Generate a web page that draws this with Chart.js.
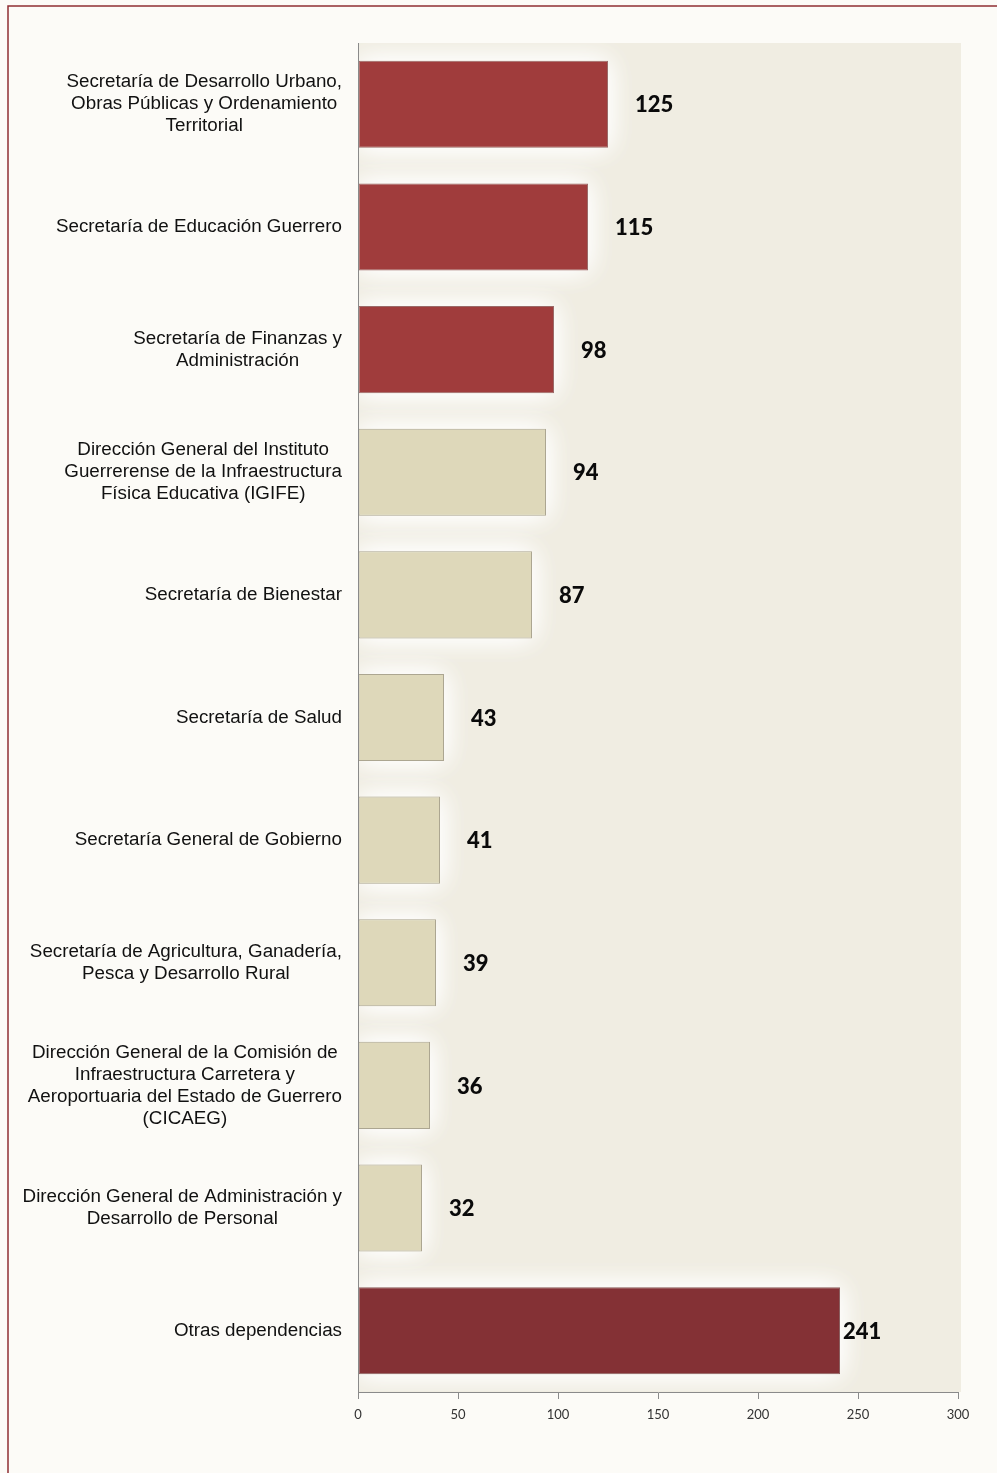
<!DOCTYPE html>
<html>
<head>
<meta charset="utf-8">
<script src="https://cdn.jsdelivr.net/npm/chart.js@4/dist/chart.umd.min.js"></script>
<style>
  html, body { margin: 0; padding: 0; background: #fcfbf7; }
  #wrap { position: relative; width: 997px; height: 1473px; }
  canvas { display: block; }
</style>
</head>
<body>
<div id="wrap"><canvas id="c" width="997" height="1473"></canvas></div>
<script>
const categories = [
  ["Secretaría de Desarrollo Urbano,", "Obras Públicas y Ordenamiento", "Territorial"],
  ["Secretaría de Educación Guerrero"],
  ["Secretaría de Finanzas y", "Administración"],
  ["Dirección General del Instituto", "Guerrerense de la Infraestructura", "Física Educativa (IGIFE)"],
  ["Secretaría de Bienestar"],
  ["Secretaría de Salud"],
  ["Secretaría General de Gobierno"],
  ["Secretaría de Agricultura, Ganadería,", "Pesca y Desarrollo Rural"],
  ["Dirección General de la Comisión de", "Infraestructura Carretera y", "Aeroportuaria del Estado de Guerrero", "(CICAEG)"],
  ["Dirección General de Administración y", "Desarrollo de Personal"],
  ["Otras dependencias"]
];
const values = [125, 115, 98, 94, 87, 43, 41, 39, 36, 32, 241];
const barColors = ["#a03c3c", "#a03c3c", "#a03c3c", "#ded8ba", "#ded8ba", "#ded8ba", "#ded8ba", "#ded8ba", "#ded8ba", "#ded8ba", "#843135"];
const barBorders = ["#9a6a68", "#9a6a68", "#9a6a68", "#aca691", "#aca691", "#aca691", "#aca691", "#aca691", "#aca691", "#aca691", "#8a5f5f"];
const xTicks = [0, 50, 100, 150, 200, 250, 300];

const bgPlugin = {
  id: 'bg',
  beforeDraw(chart) {
    const ctx = chart.ctx, a = chart.chartArea;
    ctx.save();
    ctx.fillStyle = '#fcfbf7';
    ctx.fillRect(0, 0, chart.width, chart.height);
    ctx.strokeStyle = '#8e2f33';
    ctx.lineWidth = 1.5;
    ctx.beginPath();
    ctx.moveTo(8, chart.height);
    ctx.lineTo(8, 6);
    ctx.lineTo(chart.width, 6);
    ctx.stroke();
    ctx.fillStyle = '#f0ede2';
    ctx.fillRect(a.left, a.top, a.right - a.left + 3, a.bottom - a.top);
    ctx.restore();
  },
  beforeDatasetsDraw(chart) {
    const ctx = chart.ctx, a = chart.chartArea;
    const meta = chart.getDatasetMeta(0);
    ctx.save();
    ctx.beginPath();
    ctx.rect(a.left + 1, a.top, a.right - a.left + 2, a.bottom - a.top - 1);
    ctx.clip();
    ctx.shadowColor = 'rgba(255,255,255,1)';
    ctx.shadowBlur = 26;
    ctx.fillStyle = '#f7f5ee';
    meta.data.forEach(bar => {
      const h = bar.height;
      const x0 = Math.min(bar.base, bar.x), w = Math.abs(bar.x - bar.base);
      for (let k = 0; k < 2; k++) ctx.fillRect(x0, bar.y - h / 2, w, h);
    });
    ctx.restore();
  }
};

const labelPlugin = {
  id: 'labels',
  afterDraw(chart) {
    const ctx = chart.ctx;
    const y = chart.scales.y;
    ctx.save();
    ctx.font = '18.8px "Liberation Sans", Arial, sans-serif';
    ctx.fillStyle = '#111';
    ctx.textBaseline = 'middle';
    ctx.textAlign = 'center';
    const lineH = 22;
    const rightEdge = chart.chartArea.left - 16;
    categories.forEach((lines, i) => {
      const cy = y.getPixelForValue(i);
      let maxW = 0;
      lines.forEach(l => { maxW = Math.max(maxW, ctx.measureText(l).width); });
      const cx = rightEdge - maxW / 2;
      const startY = cy - (lines.length - 1) * lineH / 2;
      lines.forEach((l, k) => ctx.fillText(l, cx, startY + k * lineH));
    });
    ctx.font = '900 22px Lato, "Open Sans", sans-serif';
    ctx.fillStyle = '#0a0a0a';
    ctx.textAlign = 'left';
    const meta = chart.getDatasetMeta(0);
    values.forEach((v, i) => {
      const bar = meta.data[i];
      const off = v > 200 ? 3 : 27;
      ctx.fillText(String(v), bar.x + off, bar.y + 1);
    });
    // keep the category axis line crisp on top
    const a = chart.chartArea;
    ctx.strokeStyle = '#8a8a8a';
    ctx.lineWidth = 1;
    ctx.beginPath();
    ctx.moveTo(a.left + 0.5, a.top);
    ctx.lineTo(a.left + 0.5, a.bottom);
    ctx.stroke();
    ctx.restore();
  }
};

new Chart(document.getElementById('c'), {
  type: 'bar',
  data: {
    labels: categories,
    datasets: [{
      data: values,
      backgroundColor: barColors,
      borderColor: barBorders,
      borderWidth: 1,
      borderSkipped: false,
      categoryPercentage: 1,
      barPercentage: 0.71
    }]
  },
  options: {
    indexAxis: 'y',
    responsive: false,
    animation: false,
    devicePixelRatio: 1,
    layout: { padding: { left: 358, right: 39, top: 43, bottom: 0 } },
    plugins: { legend: { display: false }, tooltip: { enabled: false } },
    scales: {
      x: {
        min: 0, max: 300,
        afterBuildTicks(scale) { scale.ticks = xTicks.map(v => ({ value: v })); },
        afterFit(scale) { scale.height = 81; },
        grid: { display: true, drawOnChartArea: false, drawTicks: true, tickLength: 7, color: '#8a8a8a' },
        border: { display: true, color: '#8a8a8a', width: 1 },
        ticks: { color: '#333', font: { family: 'Lato, "Open Sans", sans-serif', size: 13 }, padding: 8, maxRotation: 0 }
      },
      y: {
        afterFit(scale) { scale.width = 0; },
        grid: { display: false },
        border: { display: true, color: '#8a8a8a', width: 1 },
        ticks: { display: false }
      }
    }
  },
  plugins: [bgPlugin, labelPlugin]
});
</script>
</body>
</html>
